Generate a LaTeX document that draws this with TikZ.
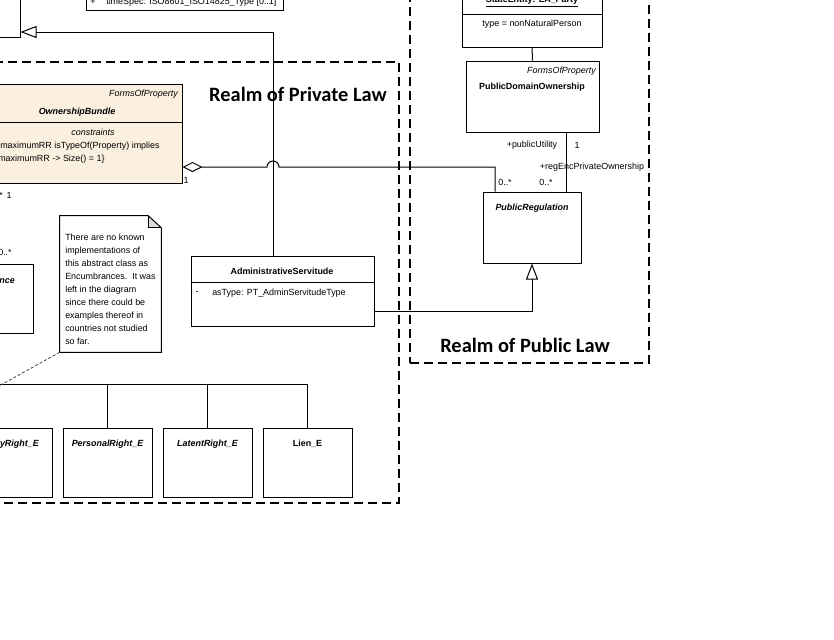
\documentclass[tikz,border=0pt]{standalone}
\usepackage{fontspec}
\setmainfont{Liberation Sans}
\newfontfamily\realmfont{Carlito}
\usetikzlibrary{arrows.meta,fit,calc}

\definecolor{bundlefill}{RGB}{251,240,224}
\definecolor{foldgray}{RGB}{218,218,218}

\tikzset{
  umlbox/.style={draw, line width=0.75pt, inner sep=0pt},
  bundlebox/.style={umlbox, fill=bundlefill},
  realmbox/.style={draw, line width=1.5pt, dash pattern=on 6.75pt off 3.75pt, inner sep=0pt},
  realmtitle/.style={font=\realmfont\bfseries\fontsize{15.3}{18}\selectfont, inner sep=0pt},
  umltxt/.style={font=\fontsize{6.7}{8}\selectfont, inner sep=0pt},
  umlname/.style={font=\fontsize{6.7}{8}\selectfont\bfseries, inner sep=0pt},
  umlabstract/.style={font=\fontsize{6.7}{8}\selectfont\bfseries\itshape, inner sep=0pt},
  umlstereo/.style={font=\fontsize{6.7}{8}\selectfont\itshape, inner sep=0pt},
  notetxt/.style={font=\fontsize{6.7}{9.75}\selectfont, align=left, inner sep=0pt},
  umlline/.style={line width=0.75pt},
  genarrow/.style={umlline, -{Triangle[open, length=12pt, width=9pt]}},
  aggline/.style={umlline, {Diamond[open, length=15pt, width=7.5pt]}-},
  notelink/.style={line width=0.6pt, black!75, dash pattern=on 2.25pt off 1.5pt}
}

\begin{document}
\begin{tikzpicture}[x=0.75pt, y=-0.75pt]
    \useasboundingbox (0,0) rectangle (834,639);
    \fill[white] (0,0) rectangle (834,639);
    \clip (0,0) rectangle (834,639);

    % Realms
    \node[realmbox, fit={(-10,62) (399,503)}] (private) {};
    \node[realmbox, fit={(410,-10) (649,363)}] (public) {};
    \node[realmtitle] (privatetitle) at (298,94) {Realm of Private Law};
    \node[realmtitle] (publictitle) at (525,345) {Realm of Public Law};

    % Classes cut by the top edge
    \node[umlbox, fit={(-10,-10) (20,37)}] (upper) {};
    \node[umlbox, fit={(86,-10) (283,10)}] (timebox) {};
    \node[umltxt] (timeplus) at (93,2) {+};
    \node[umltxt, anchor=west] (timeattr) at (106,2) {timeSpec: ISO8601\_ISO14825\_Type [0..1]};

    \node[umlbox, fit={(462,-10) (602,47)}] (stateentity) {};
    \draw[umlline] (stateentity.west |- 0,14) -- (stateentity.east |- 0,14);
    \node[umlname] (setitle) at (532,2) {\underline{StateEntity: LA\_Party}};
    \node[umltxt] (setype) at (532,24) {type = nonNaturalPerson};

    % Public law classes
    \node[umlbox, fit={(466,61) (599,132)}] (pdo) {};
    \node[umlstereo, anchor=east] (pdostereo) at (596,71) {FormsOfProperty};
    \node[umlname] (pdoname) at (532,87) {PublicDomainOwnership};

    \node[umlbox, fit={(483,192) (581,263)}] (preg) {};
    \node[umlabstract] (pregname) at (532,208) {PublicRegulation};

    % Ownership bundle
    \node[bundlebox, fit={(-10,84) (182,183)}] (bundle) {};
    \draw[umlline] (bundle.west |- 0,122) -- (bundle.east |- 0,122);
    \node[umlstereo, anchor=east] (bundlestereo) at (178,94) {FormsOfProperty};
    \node[umlabstract] (bundlename) at (77,112) {OwnershipBundle};
    \node[umlstereo] (bundlecons) at (93,132) {constraints};
    \node[umltxt, anchor=west] (bundlerule) at (0,146) {maximumRR isTypeOf(Property) implies};
    \node[umltxt, anchor=west] (bundlesize) at (-2,159) {maximumRR -> Size() = 1\}};

    % Encumbrance
    \node[umlbox, fit={(-10,264) (33,333)}] (encumbrance) {};
    \node[umlabstract, anchor=east] (encname) at (15,280) {Encumbrance};

    % Note
    \node[fit={(60,216) (161,352)}, inner sep=0pt] (note) {};
    \fill[foldgray] ([xshift=-9.75pt]note.north east) -- ([xshift=-9.75pt, yshift=-9pt]note.north east) -- ([yshift=-9pt]note.north east) -- cycle;
    \draw[umlline] (note.south west) -- (note.north west) -- ([xshift=-9.75pt]note.north east)
        -- ([yshift=-9pt]note.north east) -- (note.south east) -- cycle;
    \draw[line width=0.5pt] ([xshift=-9.75pt]note.north east) -- ([xshift=-9.75pt, yshift=-9pt]note.north east) -- ([yshift=-9pt]note.north east);
    \node[notetxt, anchor=north west] (notetext) at (65,234) {There are no known\\implementations of\\this abstract class as\\Encumbrances.\ \ It was\\left in the diagram\\since there could be\\examples thereof in\\countries not studied\\so far.};

    % Administrative servitude
    \node[umlbox, fit={(191,256) (374,326)}] (servitude) {};
    \draw[umlline] (servitude.west |- 0,282) -- (servitude.east |- 0,282);
    \node[umlname] (servname) at (282,271) {AdministrativeServitude};
    \node[umltxt] (servdash) at (197,293) {-};
    \node[umltxt, anchor=west] (servattr) at (212,293) {asType: PT\_AdminServitudeType};

    % Rights
    \node[umlbox, fit={(-10,428) (52,497)}] (property) {};
    \node[umlabstract, anchor=east] (propname) at (39,444) {PropertyRight\_E};
    \node[umlbox, fit={(63,428) (152,497)}] (personal) {};
    \node[umlabstract] (persname) at (107.5,444) {PersonalRight\_E};
    \node[umlbox, fit={(163,428) (252,497)}] (latent) {};
    \node[umlabstract] (latname) at (207.5,444) {LatentRight\_E};
    \node[umlbox, fit={(263,428) (352,497)}] (lien) {};
    \node[umlname] (lienname) at (307.5,444) {Lien\_E};

    % Connectors
    \coordinate (upperhook) at (0,32);
    \draw[genarrow] ($(servitude.north)+(-9,0)$) |- (upper.east |- upperhook);

    \coordinate (hopstart) at (267,167);
    \coordinate (aggdrop) at (495,0);
    \draw[aggline] (bundle.east |- hopstart) -- (hopstart) arc[start angle=180, end angle=0, radius=4.5pt]
        -| (preg.north -| aggdrop);

    \coordinate (assocline) at (566,0);
    \draw[umlline] (pdo.south -| assocline) -- (preg.north -| assocline);
    \draw[umlline] (stateentity.south) -- (pdo.north);

    \coordinate (realizey) at (0,311);
    \draw[genarrow] (servitude.east |- realizey) -| (preg.south);

    \coordinate (treeend) at (-10,384);
    \draw[umlline] (lien.north) |- (treeend);
    \draw[umlline] (latent.north) -- (latent.north |- treeend);
    \draw[umlline] (personal.north) -- (personal.north |- treeend);

    \coordinate (noteend) at (-10,391);
    \draw[notelink] (note.south west) -- (noteend);

    % Multiplicities and roles
    \node[umltxt] (aggone) at (186,180) {1};
    \node[umltxt] (aggmany) at (505,182) {0..*};
    \node[umltxt] (utilrole) at (532,145) {+publicUtility};
    \node[umltxt] (utilone) at (577,145) {1};
    \node[umltxt] (encrole) at (592,167) {+regEncPrivateOwnership};
    \node[umltxt] (encmany) at (546,182) {0..*};
    \node[umltxt] (leftstar) at (1,195) {*};
    \node[umltxt] (leftone) at (9,195) {1};
    \node[umltxt] (leftmany) at (5,252) {0..*};
\end{tikzpicture}
\end{document}
